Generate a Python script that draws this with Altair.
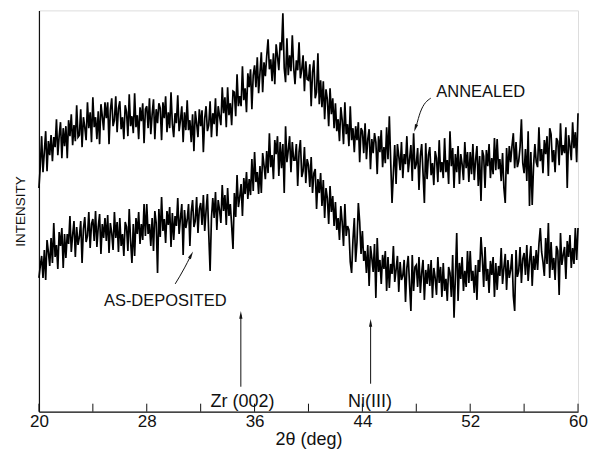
import altair as alt
import pandas as pd

x_start = 20.0
x_step = 0.1

annealed = [
    225, 247, 277, 241, 261, 282, 242, 272, 258, 278,
    252, 276, 266, 294, 258, 277, 291, 255, 285, 267,
    287, 255, 293, 277, 299, 268, 288, 272, 308, 276,
    278, 304, 266, 296, 286, 273, 311, 285, 301, 271,
    316, 286, 296, 274, 302, 269, 309, 297, 283, 311,
    295, 311, 269, 303, 315, 287, 293, 317, 281, 305,
    312, 284, 296, 274, 308, 301, 277, 319, 287, 297,
    280, 320, 286, 298, 274, 306, 292, 310, 270, 304,
    307, 285, 315, 279, 299, 314, 274, 304, 290, 310,
    305, 273, 311, 295, 317, 281, 301, 285, 321, 289,
    276, 300, 290, 318, 282, 293, 307, 271, 301, 283,
    313, 283, 293, 271, 299, 262, 302, 290, 276, 304,
    287, 303, 261, 295, 307, 282, 288, 312, 276, 300,
    289, 315, 277, 307, 297, 288, 326, 300, 316, 286,
    326, 298, 310, 288, 322, 321, 297, 339, 307, 317,
    307, 347, 313, 325, 301, 340, 326, 344, 304, 338,
    348, 326, 356, 320, 340, 361, 321, 351, 337, 357,
    374, 344, 354, 332, 360, 329, 369, 357, 343, 371,
    363, 400, 345, 331, 375, 338, 358, 342, 378, 346,
    329, 353, 343, 371, 335, 344, 358, 322, 352, 334,
    333, 349, 307, 341, 353, 315, 321, 360, 309, 333,
    306, 332, 294, 324, 314, 287, 325, 299, 315, 285,
    310, 282, 294, 272, 306, 293, 269, 311, 279, 289,
    267, 307, 273, 285, 261, 287, 273, 291, 251, 285,
    282, 260, 290, 254, 274, 284, 244, 274, 260, 280,
    271, 239, 277, 261, 283, 246, 266, 250, 286, 254,
    297, 252, 210, 240, 268, 229, 269, 257, 243, 271,
    235, 259, 249, 277, 241, 254, 268, 232, 280, 244,
    249, 265, 223, 257, 269, 240, 210, 270, 234, 258,
    266, 238, 250, 228, 262, 255, 231, 273, 241, 251,
    235, 275, 241, 253, 229, 282, 247, 265, 225, 259,
    241, 267, 229, 259, 249, 233, 271, 245, 261, 231,
    261, 239, 269, 233, 253, 267, 227, 257, 212, 263,
    257, 225, 263, 247, 269, 235, 255, 239, 275, 243,
    274, 244, 254, 232, 260, 225, 210, 265, 239, 267,
    251, 267, 280, 245, 271, 246, 252, 266, 294, 250,
    240, 264, 232, 282, 207, 261, 208, 247, 269, 251,
    246, 286, 252, 264, 240, 273, 259, 277, 237, 285,
    279, 251, 263, 241, 275, 272, 248, 290, 258, 268,
    260, 286, 225, 278, 268, 253, 291, 265, 281, 251,
    300,
]

as_deposited = [
    135, 147, 157, 135, 163, 133, 173, 161, 147, 175,
    150, 190, 156, 168, 144, 181, 167, 185, 145, 179,
    155, 179, 169, 197, 161, 178, 192, 156, 186, 168,
    176, 192, 150, 184, 196, 171, 177, 201, 165, 189,
    194, 172, 202, 166, 186, 199, 159, 189, 175, 195,
    172, 198, 160, 190, 180, 163, 201, 175, 191, 161,
    195, 167, 179, 157, 191, 186, 162, 204, 172, 150,
    189, 157, 195, 179, 201, 169, 189, 173, 209, 177,
    209, 179, 189, 167, 195, 162, 202, 190, 140, 204,
    176, 216, 182, 194, 170, 202, 188, 206, 166, 200,
    173, 197, 187, 215, 179, 195, 209, 158, 203, 185,
    193, 209, 167, 201, 213, 186, 192, 216, 180, 204,
    210, 188, 218, 182, 202, 219, 179, 142, 195, 215,
    195, 221, 183, 213, 203, 190, 228, 202, 218, 188,
    225, 197, 209, 187, 164, 220, 196, 238, 206, 216,
    229, 197, 235, 219, 241, 214, 234, 218, 254, 222,
    261, 231, 241, 219, 247, 220, 260, 248, 234, 262,
    240, 280, 246, 258, 234, 273, 259, 277, 237, 271,
    245, 269, 220, 287, 251, 263, 277, 241, 271, 253,
    253, 269, 227, 261, 273, 236, 242, 266, 230, 254,
    248, 226, 256, 220, 240, 244, 204, 234, 220, 240,
    207, 233, 195, 225, 215, 189, 227, 201, 217, 187,
    211, 183, 195, 173, 207, 191, 167, 209, 177, 187,
    183, 151, 140, 173, 195, 151, 171, 210, 191, 159,
    182, 152, 162, 140, 168, 127, 167, 155, 141, 169,
    115, 175, 141, 153, 129, 158, 144, 162, 122, 156,
    125, 149, 139, 167, 131, 143, 157, 121, 151, 133,
    137, 153, 111, 145, 157, 128, 102, 158, 122, 146,
    148, 126, 156, 120, 140, 153, 113, 143, 129, 149,
    127, 153, 115, 145, 135, 118, 156, 130, 146, 116,
    150, 122, 134, 112, 146, 140, 116, 158, 95, 136,
    180, 112, 150, 134, 156, 122, 142, 126, 162, 130,
    162, 132, 142, 120, 148, 113, 153, 141, 176, 155,
    126, 166, 132, 144, 120, 152, 138, 156, 116, 150,
    123, 147, 137, 165, 129, 145, 159, 123, 153, 135,
    143, 159, 117, 102, 163, 136, 142, 166, 130, 154,
    160, 138, 168, 132, 152, 167, 127, 157, 143, 163,
    143, 169, 185, 161, 151, 137, 175, 149, 190, 135,
    171, 143, 155, 133, 167, 162, 118, 180, 148, 158,
    166, 134, 172, 156, 178, 145, 165, 149, 185, 153,
    185,
]

tick_values = [20, 24, 28, 32, 36, 40, 44, 48, 52, 56, 60]
label_values = [20, 28, 36, 44, 52, 60]

# annotation texts
note_text = ["ANNEALED", "AS-DEPOSITED"]
note_x = [52.78, 29.37]
note_y = [321, 112]

peak_text = ["Zr (002)", "Ni(III)"]
peak_x = [35.10, 44.56]
peak_y = [11, 11]

# vertical reflection-marker arrows
marker_x = [34.98, 44.61]
marker_y0 = [26, 29]
marker_y1 = [98, 90]

# curved pointer arrows (three points each)
pointer_id = ["a", "a", "a", "d", "d", "d"]
pointer_x = [49.07, 48.30, 48.00, 30.11, 30.80, 31.22]
pointer_y = [315, 301, 287, 129, 145, 156]

# arrow heads
head_x = [34.98, 44.61, 47.93, 31.30]
head_y = [98, 90, 285, 158]
head_angle = [0, 0, 198, 28]

FONT = "Liberation Sans"
W, H = 540, 402

n = len(annealed)
two_theta = [round(x_start + i * x_step, 1) for i in range(n)]
curves = pd.DataFrame({
    "x": two_theta + two_theta,
    "y": annealed + as_deposited,
    "s": ["annealed"] * n + ["as"] * len(as_deposited),
})

xscale = alt.Scale(domain=[20, 60], nice=False, zero=False)
yscale = alt.Scale(domain=[1, 403], nice=False, zero=False)

xaxis = alt.Axis(values=label_values, ticks=False, grid=False, domain=True,
                 domainColor="#111", domainWidth=1.2, labelFontSize=17,
                 labelPadding=2, labelColor="#111", labelFont=FONT, labelFlush=False,
                 title="2θ (deg)", titleFont=FONT, titleFontSize=18,
                 titleFontWeight="normal", titleColor="#111", titlePadding=1)
yaxis = alt.Axis(labels=False, ticks=False, grid=False, domain=True,
                 domainColor="#111", domainWidth=1.2,
                 title="INTENSITY", titleFont=FONT, titleFontSize=13.5,
                 titleFontWeight="normal", titleColor="#111", titlePadding=11)

lines = alt.Chart(curves).mark_line(color="#000", strokeWidth=1.7).encode(
    x=alt.X("x:Q", scale=xscale, axis=xaxis),
    y=alt.Y("y:Q", scale=yscale, axis=yaxis),
    detail="s:N",
)

ticks = alt.Chart(pd.DataFrame({"t": tick_values})).mark_rule(
    color="#111", strokeWidth=1).encode(
    x=alt.X("t:Q", scale=xscale),
    y=alt.value(H), y2=alt.value(H - 8),
)

notes = alt.Chart(pd.DataFrame({"t": note_text, "x": note_x, "y": note_y})).mark_text(
    font=FONT, fontSize=16.5, color="#111", baseline="middle", align="center").encode(
    x=alt.X("x:Q", scale=xscale), y=alt.Y("y:Q", scale=yscale), text="t:N")

peaks = alt.Chart(pd.DataFrame({"t": peak_text, "x": peak_x, "y": peak_y})).mark_text(
    font=FONT, fontSize=18, color="#111", baseline="middle", align="center").encode(
    x=alt.X("x:Q", scale=xscale), y=alt.Y("y:Q", scale=yscale), text="t:N")

markers = alt.Chart(pd.DataFrame({"x": marker_x, "y0": marker_y0, "y1": marker_y1})).mark_rule(
    color="#111", strokeWidth=1).encode(
    x=alt.X("x:Q", scale=xscale), y=alt.Y("y0:Q", scale=yscale), y2="y1:Q")

pointers = alt.Chart(pd.DataFrame({"id": pointer_id, "x": pointer_x, "y": pointer_y,
                                   "o": list(range(len(pointer_x)))})).mark_line(
    color="#111", strokeWidth=1, interpolate="monotone").encode(
    x=alt.X("x:Q", scale=xscale), y=alt.Y("y:Q", scale=yscale),
    detail="id:N", order="o:Q")

heads = alt.Chart(pd.DataFrame({"x": head_x, "y": head_y, "a": head_angle})).mark_point(
    shape="M0,-1L0.42,1L-0.42,1Z", filled=True, color="#111", size=60, opacity=1).encode(
    x=alt.X("x:Q", scale=xscale), y=alt.Y("y:Q", scale=yscale),
    angle=alt.Angle("a:Q", scale=None))

chart = alt.layer(lines, ticks, markers, pointers, heads, notes, peaks).properties(
    width=W, height=H,
    padding={"left": 6, "top": 1, "right": 0, "bottom": 0},
).configure_view(stroke=None).configure(font=FONT)

chart.save("out.html", embed_options={"renderer": "svg", "actions": False})
